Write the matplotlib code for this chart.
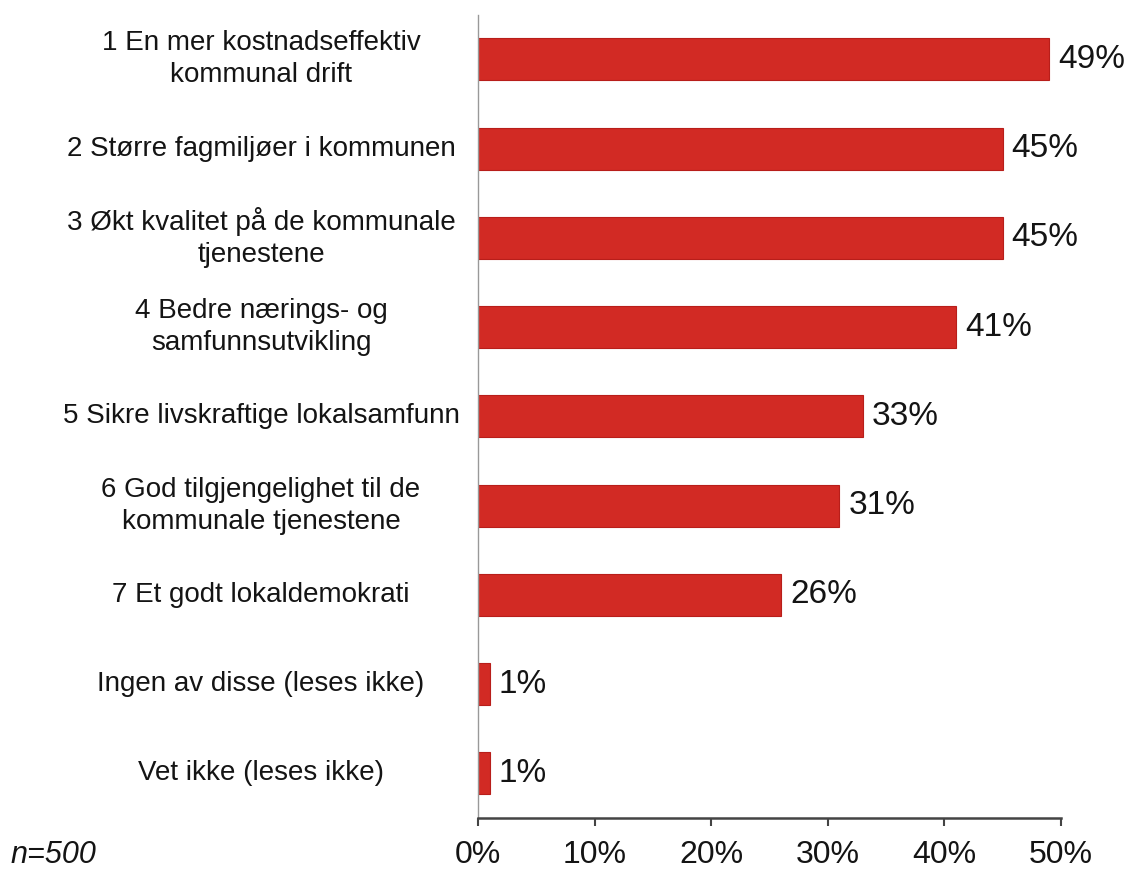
import matplotlib
matplotlib.use("Agg")
import matplotlib.pyplot as plt
from matplotlib.transforms import blended_transform_factory

plt.rcParams["font.family"] = ["Liberation Sans", "DejaVu Sans"]

categories = [
    "1 En mer kostnadseffektiv\nkommunal drift",
    "2 Større fagmiljøer i kommunen",
    "3 Økt kvalitet på de kommunale\ntjenestene",
    "4 Bedre nærings- og\nsamfunnsutvikling",
    "5 Sikre livskraftige lokalsamfunn",
    "6 God tilgjengelighet til de\nkommunale tjenestene",
    "7 Et godt lokaldemokrati",
    "Ingen av disse (leses ikke)",
    "Vet ikke (leses ikke)",
]
values = [49, 45, 45, 41, 33, 31, 26, 1, 1]
xticks = [0, 10, 20, 30, 40, 50]
xtick_labels = ["0%", "10%", "20%", "30%", "40%", "50%"]

TEXT = "#141414"
RED = "#d22a24"

fig = plt.figure(figsize=(11.32, 8.72), dpi=100)
ax = fig.add_axes([0.4223, 0.0619, 0.9373 - 0.4223, 0.983 - 0.0619])

ypos = list(range(len(categories)))
ax.barh(ypos, values, height=0.47, color=RED, edgecolor="#b81e1a", linewidth=0.8)

for y, v in zip(ypos, values):
    ax.text(v + 0.75, y, f"{v}%", va="center", ha="left", fontsize=24, color=TEXT)

# category labels, centred in the left margin
trans = blended_transform_factory(fig.transFigure, ax.transData)
for y, lab in zip(ypos, categories):
    ax.text(0.2306, y, lab, transform=trans, ha="center", va="center",
            multialignment="center", fontsize=20, color=TEXT, linespacing=1.3)

ax.set_xlim(0, 50)
ax.set_ylim(len(categories) - 0.5, -0.5)
ax.set_xticks(xticks)
ax.set_xticklabels(xtick_labels, fontsize=23, color=TEXT)
ax.set_yticks([])
ax.tick_params(axis="x", direction="out", length=6, width=1.5, color="#444444", pad=10)

for s in ["top", "right"]:
    ax.spines[s].set_visible(False)
ax.spines["left"].set_color("#999999")
ax.spines["left"].set_linewidth(1.0)
ax.spines["bottom"].set_color("#444444")
ax.spines["bottom"].set_linewidth(1.8)

fig.text(0.009, 0.01, "n=500", style="italic", fontsize=22, color=TEXT)

fig.savefig("out.png", dpi=100, facecolor="white")
